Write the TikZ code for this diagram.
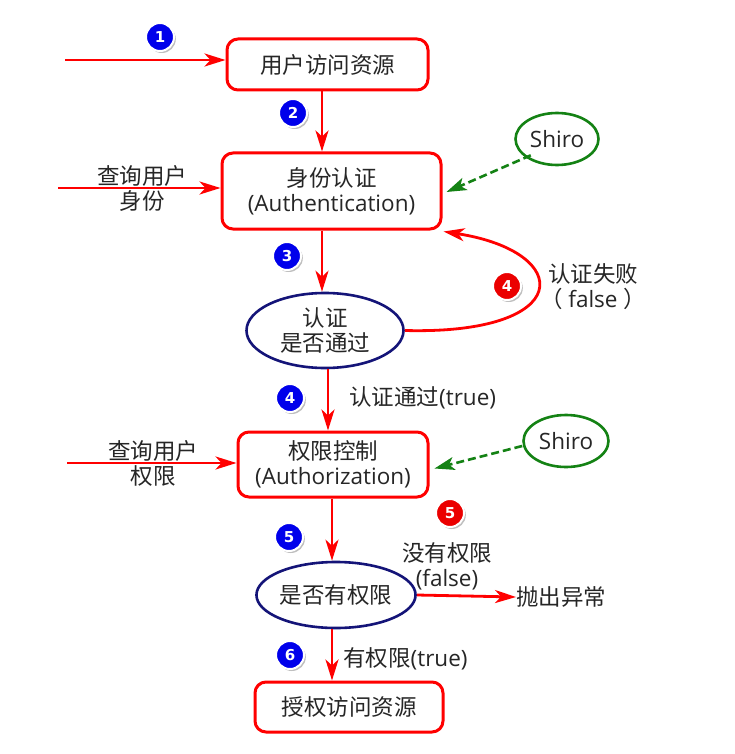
\documentclass[tikz,border=0pt]{standalone}
\usepackage{fontspec}
\setmainfont{Open Sans}
\newfontfamily\zhfont{Noto Sans CJK SC}
\newcommand{\zh}[1]{{\zhfont #1}}
\newfontfamily\badgefont{DejaVu Sans}
\usetikzlibrary{arrows.meta,shadows,calc,shapes.geometric}
\definecolor{lred}{RGB}{255,0,0}
\definecolor{navyline}{RGB}{20,20,120}
\definecolor{shgreen}{RGB}{20,130,20}
\definecolor{bblue}{RGB}{0,0,235}
\definecolor{bred}{RGB}{235,0,0}
\tikzset{
  txt/.style={font=\fontsize{22.5}{25}\selectfont, text=black!85, align=center, inner sep=0pt},
  rbox/.style={txt, draw=lred, line width=3pt, rounded corners=11pt, fill=white},
  oval/.style={txt, draw=navyline, line width=2.6pt, ellipse, fill=white},
  shiro/.style={txt, draw=shgreen, line width=2.6pt, ellipse, fill=white},
  arr/.style={draw=lred, line width=2.8pt, -{Stealth[length=21pt,width=13pt,inset=6pt]}},
  darr/.style={draw=shgreen, line width=2.6pt, dash pattern=on 8pt off 4pt, -{Stealth[length=20pt,width=13pt,inset=5pt]}},
  badge/.style={circle, fill=#1, draw=white, line width=2pt, minimum size=28pt, inner sep=0pt,
    text=white, font=\badgefont\bfseries\fontsize{15}{15}\selectfont,
    drop shadow={shadow xshift=1.8pt, shadow yshift=-2pt, fill=black!45, opacity=0.55}},
}
\begin{document}
\begin{tikzpicture}[x=1pt,y=-1pt]
\useasboundingbox[fill=white] (0,0) rectangle (735,754);

% boxes and ovals
\node[rbox, minimum width=201pt, minimum height=51pt] (b1) at (327.5,64.5) {\zh{用户访问资源}};
\node[rbox, minimum width=219pt, minimum height=76pt] (b2) at (331.5,191) {\zh{身份认证}\\(Authentication)};
\node[oval, minimum width=157pt, minimum height=75pt] (e1) at (325,330.5) {\zh{认证}\\\zh{是否通过}};
\node[rbox, minimum width=190pt, minimum height=65pt] (b3) at (333,464.5) {\zh{权限控制}\\(Authorization)};
\node[oval, minimum width=156pt, minimum height=66pt] (e2) at (336,595) {\zh{是否有权限}};
\node[rbox, minimum width=188pt, minimum height=50pt] (b4) at (349,707) {\zh{授权访问资源}};

\node[shiro, minimum width=83pt, minimum height=52pt] (s1) at (557,139) {Shiro};
\node[shiro, minimum width=85pt, minimum height=52pt] (s2) at (566,441) {Shiro};

% free labels
\node[txt] (q1) at (142,188) {\zh{查询用户}\\\zh{身份}};
\node[txt] (q2) at (153,463) {\zh{查询用户}\\\zh{权限}};
\node[txt] (fail) at (593,287) {\zh{认证失败}\\\zh{（} false \zh{）}};
\node[txt, anchor=west] (pass) at (349,398) {\zh{认证通过}(true)};
\node[txt] (nop) at (447,566) {\zh{没有权限}\\(false)};
\node[txt, anchor=west] (exc) at (516,597) {\zh{抛出异常}};
\node[txt, anchor=west] (yes) at (343,659) {\zh{有权限}(true)};

% free ends
\coordinate (in1) at (65,60);
\coordinate (in2) at (58,188);
\coordinate (in3) at (67,463);

% connectors
\draw[arr] (in1) -- (b1.west |- in1);
\draw[arr] ([xshift=-5.5pt]b1.south) -- ([xshift=-9.5pt]b2.north);
\draw[arr] (in2) -- (b2.west |- in2);
\draw[arr] ([xshift=-9.5pt]b2.south) -- ([xshift=-3pt]e1.north);
\draw[arr] (e1.east) .. controls (575,335) and (575,252) .. ([xshift=1pt,yshift=-1pt]b2.south east);
\draw[arr] ([xshift=3pt]e1.south) -- ([xshift=-5pt]b3.north);
\draw[arr] (in3) -- (b3.west |- in3);
\draw[arr] ([xshift=-1pt]b3.south) -- ([xshift=-4pt]e2.north);
\draw[arr] (e2.east) -- (exc.west);
\draw[arr] ([xshift=-4pt]e2.south) -- ([xshift=-17pt]b4.north);
\draw[darr] (s1.south west) ++(4,-3) coordinate (s1a) -- ([xshift=4pt,yshift=-1pt]b2.east);
\draw[darr] ($(s2.west)+(0,5)$) -- ([xshift=5pt,yshift=-4pt]b3.east);

% badges
\node[badge=bblue] (n1) at (160,37) {1};
\node[badge=bblue] (n2) at (293,113) {2};
\node[badge=bblue] (n3) at (287,256) {3};
\node[badge=bred] (n4r) at (507,286) {4};
\node[badge=bblue] (n4) at (290,398) {4};
\node[badge=bred] (n5r) at (450,513) {5};
\node[badge=bblue] (n5) at (289,537) {5};
\node[badge=bblue] (n6) at (290,655) {6};
\end{tikzpicture}
\end{document}
